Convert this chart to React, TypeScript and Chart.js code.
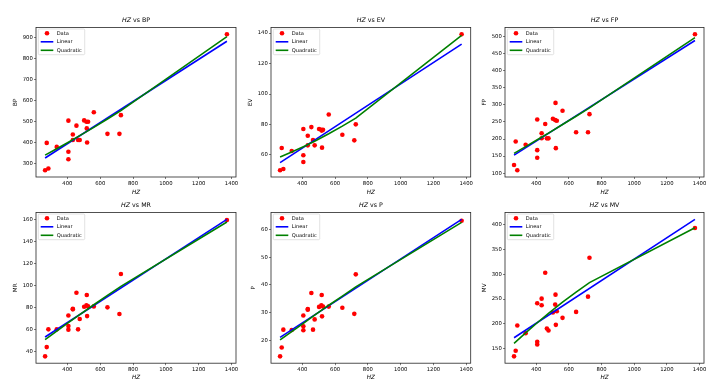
import React, { useEffect, useRef } from 'react';
import { Chart, registerables } from 'chart.js';

Chart.register(...registerables);

// ---- data ----
const HZ = [264, 284, 274, 335, 406, 406, 406, 433, 433, 455, 465, 475, 502, 516, 526, 518, 520, 561, 644, 717, 726, 1372];
const BP = [267, 275, 397, 378, 503, 355, 319, 437, 411, 479, 411, 411, 504, 498, 498, 466, 399, 543, 440, 440, 529, 914];
const EV = [50.0, 50.8, 64.6, 62.6, 77.0, 59.8, 55.4, 72.6, 66.3, 78.3, 69.8, 66.3, 77.0, 76.5, 76.5, 76.0, 64.8, 86.6, 73.3, 69.6, 80.1, 139.2];
const FP = [124, 108.7, 192.8, 183, 257.4, 167.5, 145.2, 216.8, 202.3, 243.8, 202, 202, 259.4, 255.4, 253.6, 305.8, 173.3, 282.6, 219.7, 219.7, 272.8, 506.7];
const MR = [35.8, 60.3, 44.2, 60.3, 72.9, 63.3, 60.0, 79.0, 78.4, 93.5, 60.3, 69.6, 80.8, 82.0, 81.1, 91.4, 72.3, 81.1, 80.2, 74.2, 110.4, 159.4];
const P = [14.3, 23.9, 17.5, 23.8, 29.0, 25.1, 23.7, 31.3, 31.1, 37.1, 23.9, 27.6, 32.1, 32.7, 32.2, 36.4, 28.7, 32.2, 31.8, 29.6, 43.8, 63.1];
const MV = [134.6, 196.8, 146.0, 181.4, 241.6, 164.0, 158.7, 250.9, 237.6, 303.1, 190.8, 186.8, 222.9, 238.9, 225.5, 258.9, 198.1, 212.2, 224.2, 254.9, 333.2, 393.3];

const LINE_X = [264, 1372];
const QUAD_X = [264, 335, 406, 475, 561, 644, 726, 1372];

const BP_LINEAR = [325, 881];
const BP_QUAD = [339, 369.3, 400.4, 431.4, 471.1, 510.5, 550.6, 903];
const EV_LINEAR = [55.0, 132.8];
const EV_QUAD = [58.7, 61.9, 65.4, 69.0, 73.9, 78.9, 84.2, 138.5];
const FP_LINEAR = [153, 488.4];
const FP_QUAD = [158, 177.7, 197.7, 217.4, 242.4, 266.8, 291.3, 497];
const MR_LINEAR = [53.3, 160];
const MR_QUAD = [50.9, 58.7, 66.3, 73.6, 82.6, 91.0, 99.2, 157.6];
const P_LINEAR = [21.1, 63.6];
const P_QUAD = [20.2, 23.2, 26.2, 29.1, 32.7, 36.0, 39.3, 62.5];
const MV_LINEAR = [172.1, 410.7];
const MV_QUAD = [160.7, 181.9, 202.3, 221.2, 243.7, 264.2, 283.3, 393.7];

const X_TICKS = [400, 600, 800, 1000, 1200, 1400];
const BP_TICKS = [300, 400, 500, 600, 700, 800, 900];
const EV_TICKS = [60, 80, 100, 120, 140];
const FP_TICKS = [100, 150, 200, 250, 300, 350, 400, 450, 500];
const MR_TICKS = [40, 60, 80, 100, 120, 140, 160];
const P_TICKS = [20, 30, 40, 50, 60];
const MV_TICKS = [150, 200, 250, 300, 350, 400];

const SERIES = [
  { name: 'BP', values: BP, linear: BP_LINEAR, quad: BP_QUAD, ticks: BP_TICKS },
  { name: 'EV', values: EV, linear: EV_LINEAR, quad: EV_QUAD, ticks: EV_TICKS },
  { name: 'FP', values: FP, linear: FP_LINEAR, quad: FP_QUAD, ticks: FP_TICKS },
  { name: 'MR', values: MR, linear: MR_LINEAR, quad: MR_QUAD, ticks: MR_TICKS },
  { name: 'P', values: P, linear: P_LINEAR, quad: P_QUAD, ticks: P_TICKS },
  { name: 'MV', values: MV, linear: MV_LINEAR, quad: MV_QUAD, ticks: MV_TICKS },
];

// ---- layout ----
const LAYOUT = [
  { cx: 0, cy: 0, cw: 240, ch: 197, bl: 36, br: 236.7, bt: 27.5, bb: 177, ytx: 16, xty: 4.3 },
  { cx: 240, cy: 0, cw: 240, ch: 197, bl: 271, br: 470.7, bt: 27.5, bb: 177, ytx: 11, xty: 4.3 },
  { cx: 480, cy: 0, cw: 244, ch: 197, bl: 505, br: 704, bt: 27.5, bb: 177, ytx: 5, xty: 4.3 },
  { cx: 0, cy: 197, cw: 240, ch: 190, bl: 36, br: 236.7, bt: 212.5, bb: 363.2, ytx: 15.3, xty: 9 },
  { cx: 240, cy: 197, cw: 240, ch: 190, bl: 271, br: 470.7, bt: 212.5, bb: 363.2, ytx: 14, xty: 9 },
  { cx: 480, cy: 197, cw: 244, ch: 190, bl: 505, br: 704, bt: 212.5, bb: 363.2, ytx: 4.7, xty: 9 },
];

const FONT = '"DejaVu Sans", "Liberation Sans", sans-serif';
const TICK_SIZE = 5.3;
const LABEL_SIZE = 5.7;
const TITLE_SIZE = 6.3;
const LEGEND_SIZE = 5.1;
const LABEL_LH = 1.2;

const framePlugin = {
  id: 'frameTitleLegend',
  afterDraw(chart: any) {
    const { ctx, chartArea: ca } = chart;
    const name = chart.options.plugins.frameTitleLegend.name;
    ctx.save();
    // spines
    ctx.strokeStyle = '#262626';
    ctx.lineWidth = 0.8;
    ctx.strokeRect(ca.left, ca.top, ca.right - ca.left, ca.bottom - ca.top);
    // title
    const t1 = 'HZ';
    const t2 = ' vs ' + name;
    ctx.fillStyle = '#000';
    ctx.textBaseline = 'middle';
    ctx.textAlign = 'left';
    ctx.font = `italic ${TITLE_SIZE}px ${FONT}`;
    const w1 = ctx.measureText(t1).width;
    ctx.font = `${TITLE_SIZE}px ${FONT}`;
    const w2 = ctx.measureText(t2).width;
    const x0 = (ca.left + ca.right) / 2 - (w1 + w2) / 2;
    const ty = ca.top - 7;
    ctx.font = `italic ${TITLE_SIZE}px ${FONT}`;
    ctx.fillText(t1, x0, ty);
    ctx.font = `${TITLE_SIZE}px ${FONT}`;
    ctx.fillText(t2, x0 + w1, ty);

    // legend
    const items = chart.data.datasets;
    ctx.font = `${LEGEND_SIZE}px ${FONT}`;
    let maxW = 0;
    items.forEach((d: any) => { maxW = Math.max(maxW, ctx.measureText(d.label).width); });
    const lx = ca.left + 2.3;
    const ly = ca.top + 1.5;
    const lw = 18.4 + maxW + 3;
    const lh = 25.7;
    ctx.beginPath();
    const r = 1.2;
    ctx.moveTo(lx + r, ly);
    ctx.lineTo(lx + lw - r, ly);
    ctx.quadraticCurveTo(lx + lw, ly, lx + lw, ly + r);
    ctx.lineTo(lx + lw, ly + lh - r);
    ctx.quadraticCurveTo(lx + lw, ly + lh, lx + lw - r, ly + lh);
    ctx.lineTo(lx + r, ly + lh);
    ctx.quadraticCurveTo(lx, ly + lh, lx, ly + lh - r);
    ctx.lineTo(lx, ly + r);
    ctx.quadraticCurveTo(lx, ly, lx + r, ly);
    ctx.closePath();
    ctx.fillStyle = 'rgba(255,255,255,0.8)';
    ctx.fill();
    ctx.strokeStyle = '#cccccc';
    ctx.lineWidth = 0.6;
    ctx.stroke();
    items.forEach((d: any, i: number) => {
      const y = ly + 4.3 + i * 8.5;
      if (d.showLine) {
        ctx.strokeStyle = d.borderColor;
        ctx.lineWidth = d.borderWidth;
        ctx.beginPath();
        ctx.moveTo(lx + 2.4, y);
        ctx.lineTo(lx + 15, y);
        ctx.stroke();
      } else {
        ctx.fillStyle = d.backgroundColor;
        ctx.beginPath();
        ctx.arc(lx + 8.7, y, d.pointRadius, 0, Math.PI * 2);
        ctx.fill();
      }
      ctx.fillStyle = '#000';
      ctx.font = `${LEGEND_SIZE}px ${FONT}`;
      ctx.textBaseline = 'middle';
      ctx.fillText(d.label, lx + 18.4, y + 0.2);
    });
    ctx.restore();
  },
};

function Panel({ idx }: { idx: number }) {
  const ref = useRef<HTMLCanvasElement | null>(null);
  const s = SERIES[idx];
  const L = LAYOUT[idx];
  useEffect(() => {
    if (!ref.current) return;
    const xmin0 = Math.min(...HZ);
    const xmax0 = Math.max(...HZ);
    const xpad = 0.05 * (xmax0 - xmin0);
    const allY = [...s.values, ...s.linear, ...s.quad];
    const ymin0 = Math.min(...allY);
    const ymax0 = Math.max(...allY);
    const ypad = 0.05 * (ymax0 - ymin0);
    const lh = LABEL_SIZE * LABEL_LH;
    const yAxisW = L.bl - L.cx;
    const xAxisH = L.cy + L.ch - L.bb;
    const tickGrid = {
      display: true,
      drawOnChartArea: false,
      drawTicks: true,
      tickLength: 2,
      color: '#262626',
      lineWidth: 0.6,
    };
    const chart = new Chart(ref.current, {
      type: 'scatter',
      data: {
        datasets: [
          {
            label: 'Data',
            data: HZ.map((x, i) => ({ x, y: s.values[i] })),
            backgroundColor: '#ff0000',
            borderColor: '#ff0000',
            pointRadius: 2.3,
            pointBorderWidth: 0,
            showLine: false,
            order: 3,
          },
          {
            label: 'Linear',
            data: LINE_X.map((x, i) => ({ x, y: s.linear[i] })),
            borderColor: '#0000ff',
            backgroundColor: '#0000ff',
            borderWidth: 1.6,
            pointRadius: 0,
            showLine: true,
            order: 2,
          },
          {
            label: 'Quadratic',
            data: QUAD_X.map((x, i) => ({ x, y: s.quad[i] })),
            borderColor: '#008000',
            backgroundColor: '#008000',
            borderWidth: 1.6,
            pointRadius: 0,
            showLine: true,
            order: 1,
          },
        ] as any,
      },
      options: {
        animation: false,
        responsive: false,
        devicePixelRatio: 1,
        events: [],
        layout: {
          padding: {
            left: 0,
            top: L.bt - L.cy,
            right: L.cx + L.cw - L.br,
            bottom: 0,
          },
        },
        plugins: {
          legend: { display: false },
          tooltip: { enabled: false },
          title: { display: false },
          frameTitleLegend: { name: s.name },
        } as any,
        scales: {
          x: {
            type: 'linear',
            min: xmin0 - xpad,
            max: xmax0 + xpad,
            afterBuildTicks: (axis: any) => {
              axis.ticks = X_TICKS.map((v) => ({ value: v }));
            },
            afterFit: (axis: any) => {
              axis.height = xAxisH;
              axis.paddingLeft = 0;
              axis.paddingRight = 0;
            },
            ticks: {
              autoSkip: false,
              maxRotation: 0,
              minRotation: 0,
              padding: 1.2,
              color: '#000',
              font: { family: FONT, size: TICK_SIZE },
              callback: (v: any) => String(v),
            },
            grid: tickGrid,
            border: { display: false },
            title: {
              display: true,
              text: 'HZ',
              color: '#000',
              font: { family: FONT, size: LABEL_SIZE, style: 'italic', lineHeight: LABEL_LH },
              padding: { top: 0, bottom: L.xty - lh / 2 },
            },
          },
          y: {
            type: 'linear',
            min: ymin0 - ypad,
            max: ymax0 + ypad,
            afterBuildTicks: (axis: any) => {
              axis.ticks = s.ticks.map((v) => ({ value: v }));
            },
            afterFit: (axis: any) => {
              axis.width = yAxisW;
              axis.paddingTop = 0;
              axis.paddingBottom = 0;
            },
            ticks: {
              autoSkip: false,
              padding: 1.2,
              color: '#000',
              font: { family: FONT, size: TICK_SIZE },
              callback: (v: any) => String(v),
            },
            grid: tickGrid,
            border: { display: false },
            title: {
              display: true,
              text: s.name,
              color: '#000',
              font: { family: FONT, size: LABEL_SIZE, lineHeight: LABEL_LH },
              padding: { top: L.ytx - lh / 2, bottom: 0 },
            },
          },
        } as any,
      },
      plugins: [framePlugin],
    });
    return () => chart.destroy();
  }, [idx]);
  return (
    <canvas
      ref={ref}
      width={L.cw}
      height={L.ch}
      style={{ position: 'absolute', left: L.cx, top: L.cy, width: L.cw, height: L.ch }}
    />
  );
}

export default function App() {
  return (
    <div style={{ position: 'fixed', left: 0, top: 0, width: 724, height: 387, background: '#fff', overflow: 'hidden' }}>
      {SERIES.map((_, i) => (
        <Panel key={i} idx={i} />
      ))}
    </div>
  );
}
